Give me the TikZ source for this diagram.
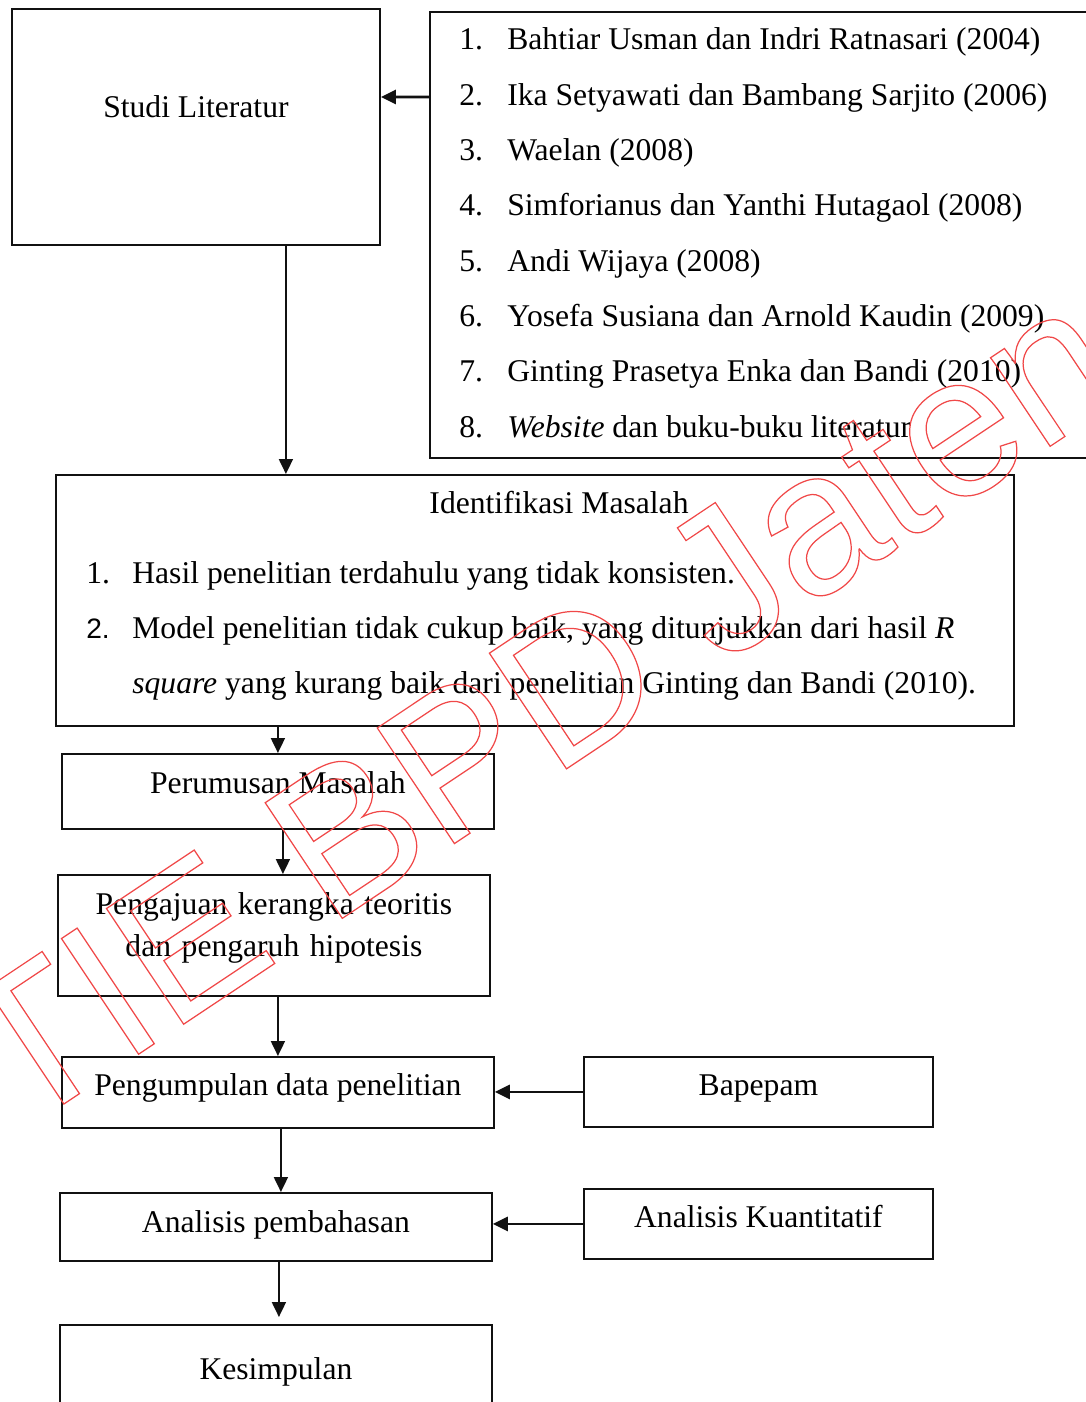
\documentclass[tikz,border=0pt]{standalone}
\usepackage{fontspec}
\setmainfont{Liberation Serif}
\setsansfont{Liberation Sans}
\newfontfamily\markfont{Liberation Sans}
\usepackage{xcolor}
\usetikzlibrary{arrows.meta,positioning}
\definecolor{linegray}{HTML}{111111}
\definecolor{markred}{HTML}{F04848}

\begin{document}
\begin{tikzpicture}[
  x=0.02cm, y=-0.02cm,
  font=\fontsize{18}{22}\selectfont,
  box/.style={rectangle, draw=linegray, line width=1.1pt, inner sep=0pt, anchor=north west, minimum width=8.64cm, align=center},
  item/.style={anchor=base west, inner sep=0pt},
  flow/.style={-{Triangle[length=0.3cm,width=0.28cm]}, draw=linegray, line width=1.1pt},
  feed/.style={flow, line width=1.6pt},
  stampmark/.style={anchor=base west, inner sep=0pt, rotate=33.7, text=markred, font=\markfont\fontsize{115}{115}\selectfont}
]
  \useasboundingbox (0,0) rectangle (1085,1402);

  % upper part
  \node[box, minimum width=7.36cm, text height=2.18cm, text depth=2.54cm] (studi) at (11,8) {Studi Literatur};
  \node[box, minimum width=13.6cm, minimum height=8.92cm] (refs) at (429,11) {};
  \foreach \txt [count=\i] in {Bahtiar Usman dan Indri Ratnasari (2004), Ika Setyawati dan Bambang Sarjito (2006), Waelan (2008), Simforianus dan Yanthi Hutagaol (2008), Andi Wijaya (2008), Yosefa Susiana dan Arnold Kaudin (2009), Ginting Prasetya Enka dan Bandi (2010), {\textit{Website} dan buku-buku literatur}}
    \node[item] (ref\i) at (459,{50+55.3*(\i-1)}) {\makebox[0.96cm][l]{\i.}\txt};

  \node[box, minimum width=19.16cm, minimum height=5.02cm] (ident) at (55,474) {};
  \node[anchor=base, inner sep=0pt] (identtitle) at (559,513) {Identifikasi Masalah};
  \node[item] (ident1) at (86,583) {\makebox[0.92cm][l]{1.}Hasil penelitian terdahulu yang tidak konsisten.};
  \node[item] (ident2) at (86,638) {\makebox[0.92cm][l]{\sffamily\fontsize{16}{20}\selectfont 2.}Model penelitian tidak cukup baik, yang ditunjukkan dari hasil \textit{R}};
  \node[item] (ident3) at (132,693) {\textit{square} yang kurang baik dari penelitian Ginting dan Bandi (2010).};

  % lower part
  \node[box, text height=0.8cm, text depth=0.7cm] (perumusan) at (61,753) {Perumusan Masalah};
  \node[box, text width=8.64cm, text height=0.8cm, text depth=1.62cm, font=\fontsize{18}{23.9}\selectfont] (pengajuan) at (57,874) {Pengajuan kerangka teoritis\\dan pengaruh hipotesis};
  \node[box, text height=0.78cm, text depth=0.64cm] (pengumpulan) at (61,1056) {Pengumpulan data penelitian};
  \node[box, minimum width=6.98cm, text height=0.78cm, text depth=0.62cm] (bapepam) at (583,1056) {Bapepam};
  \node[box, text height=0.8cm, text depth=0.56cm] (analisis) at (59,1192) {Analisis pembahasan};
  \node[box, minimum width=6.98cm, text height=0.78cm, text depth=0.62cm] (kuantitatif) at (583,1188) {Analisis Kuantitatif};
  \node[box, text height=1.1cm, text depth=1.2cm] (kesimpulan) at (59,1324) {Kesimpulan};

  % connectors
  \draw[feed] ([yshift=-1.72cm]refs.north west) -- ([yshift=-1.78cm]studi.north east);
  \draw[flow] ([xshift=1.8cm]studi.south) -- ([xshift=1.8cm]studi.south |- ident.north);
  \draw[flow] (perumusan.north |- ident.south) -- (perumusan.north);
  \draw[flow] ([xshift=0.1cm]perumusan.south) -- ([xshift=0.1cm]perumusan.south |- pengajuan.north);
  \draw[flow] (pengumpulan.north |- pengajuan.south) -- (pengumpulan.north);
  \draw[flow] ([xshift=0.06cm]pengumpulan.south) -- ([xshift=0.06cm]pengumpulan.south |- analisis.north);
  \draw[flow, shorten >=0.14cm] ([xshift=0.06cm]analisis.south) -- ([xshift=0.06cm]analisis.south |- kesimpulan.north);
  \draw[feed] (bapepam.west) -- (bapepam.west -| pengumpulan.east);
  \draw[feed] (kuantitatif.west) -- (kuantitatif.west -| analisis.east);

  % watermark, outline only
  \node[stampmark] (stamp) at (-92,1208) {\special{pdf:literal direct 1 Tr 0.7 w}STIE BPD Jateng};
\end{tikzpicture}
\end{document}
